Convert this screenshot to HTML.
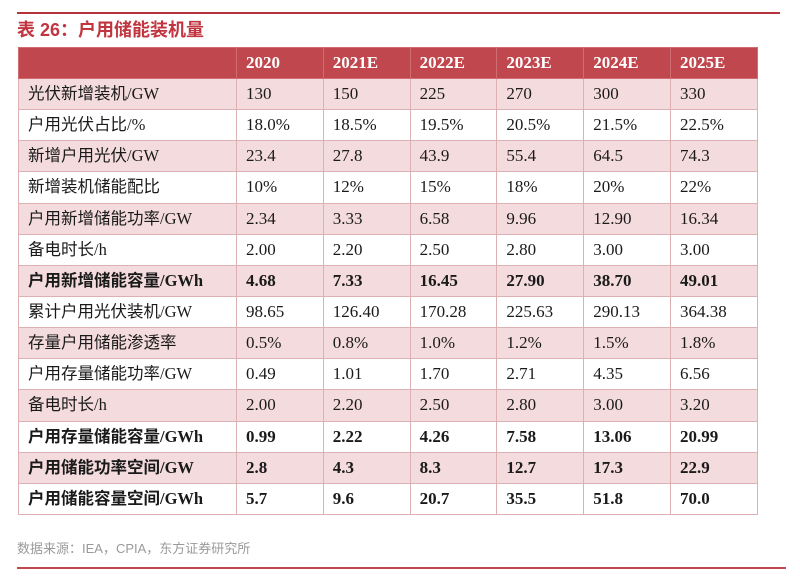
<!DOCTYPE html>
<html><head><meta charset="utf-8"><style>
body{margin:0;width:800px;height:580px;background:#fff;position:relative;overflow:hidden;font-family:"Liberation Serif","Noto Sans CJK SC",serif;}
.topline{position:absolute;left:17px;top:12px;width:763px;height:2px;background:#b5343c;}
.title{position:absolute;left:17px;top:18px;line-height:24px;font-family:"Liberation Sans","Noto Sans CJK SC",sans-serif;font-weight:bold;font-size:18px;color:#c0353f;}
table{position:absolute;left:18px;top:47px;border-collapse:collapse;width:739px;table-layout:fixed;}
td{height:31.15px;line-height:20px;border:1px solid #ddb1b4;padding:0 0 0 9px;font-size:17px;color:#1a1a1a;white-space:nowrap;vertical-align:middle;box-sizing:border-box;}
td:first-child{width:218px;font-family:"Liberation Serif","Noto Sans CJK SC",serif;font-size:16.5px;}
td:not(:first-child){width:86.8px;}
tr.h td{background:#c1474e;color:#fff;font-weight:bold;height:31px;border-color:#d06c72;}
tr:nth-child(even) td{background:#f4dbdd;}
tr.b td{font-weight:bold;}
.src{position:absolute;left:17px;top:540px;line-height:18px;font-family:"Liberation Sans","Noto Sans CJK SC",sans-serif;font-size:13px;color:#9a9a9a;}
.botline{position:absolute;left:17px;top:567px;width:769px;height:1.5px;background:#c0474e;}
</style></head><body>
<div class="topline"></div>
<div class="title">表 26：户用储能装机量</div>
<table>
<tr class="h"><td></td><td>2020</td><td>2021E</td><td>2022E</td><td>2023E</td><td>2024E</td><td>2025E</td></tr>
<tr><td>光伏新增装机/GW</td><td>130</td><td>150</td><td>225</td><td>270</td><td>300</td><td>330</td></tr>
<tr><td>户用光伏占比/%</td><td>18.0%</td><td>18.5%</td><td>19.5%</td><td>20.5%</td><td>21.5%</td><td>22.5%</td></tr>
<tr><td>新增户用光伏/GW</td><td>23.4</td><td>27.8</td><td>43.9</td><td>55.4</td><td>64.5</td><td>74.3</td></tr>
<tr><td>新增装机储能配比</td><td>10%</td><td>12%</td><td>15%</td><td>18%</td><td>20%</td><td>22%</td></tr>
<tr><td>户用新增储能功率/GW</td><td>2.34</td><td>3.33</td><td>6.58</td><td>9.96</td><td>12.90</td><td>16.34</td></tr>
<tr><td>备电时长/h</td><td>2.00</td><td>2.20</td><td>2.50</td><td>2.80</td><td>3.00</td><td>3.00</td></tr>
<tr class="b"><td>户用新增储能容量/GWh</td><td>4.68</td><td>7.33</td><td>16.45</td><td>27.90</td><td>38.70</td><td>49.01</td></tr>
<tr><td>累计户用光伏装机/GW</td><td>98.65</td><td>126.40</td><td>170.28</td><td>225.63</td><td>290.13</td><td>364.38</td></tr>
<tr><td>存量户用储能渗透率</td><td>0.5%</td><td>0.8%</td><td>1.0%</td><td>1.2%</td><td>1.5%</td><td>1.8%</td></tr>
<tr><td>户用存量储能功率/GW</td><td>0.49</td><td>1.01</td><td>1.70</td><td>2.71</td><td>4.35</td><td>6.56</td></tr>
<tr><td>备电时长/h</td><td>2.00</td><td>2.20</td><td>2.50</td><td>2.80</td><td>3.00</td><td>3.20</td></tr>
<tr class="b"><td>户用存量储能容量/GWh</td><td>0.99</td><td>2.22</td><td>4.26</td><td>7.58</td><td>13.06</td><td>20.99</td></tr>
<tr class="b"><td>户用储能功率空间/GW</td><td>2.8</td><td>4.3</td><td>8.3</td><td>12.7</td><td>17.3</td><td>22.9</td></tr>
<tr class="b"><td>户用储能容量空间/GWh</td><td>5.7</td><td>9.6</td><td>20.7</td><td>35.5</td><td>51.8</td><td>70.0</td></tr>
</table>
<div class="src">数据来源：IEA，CPIA，东方证券研究所</div>
<div class="botline"></div>
</body></html>
